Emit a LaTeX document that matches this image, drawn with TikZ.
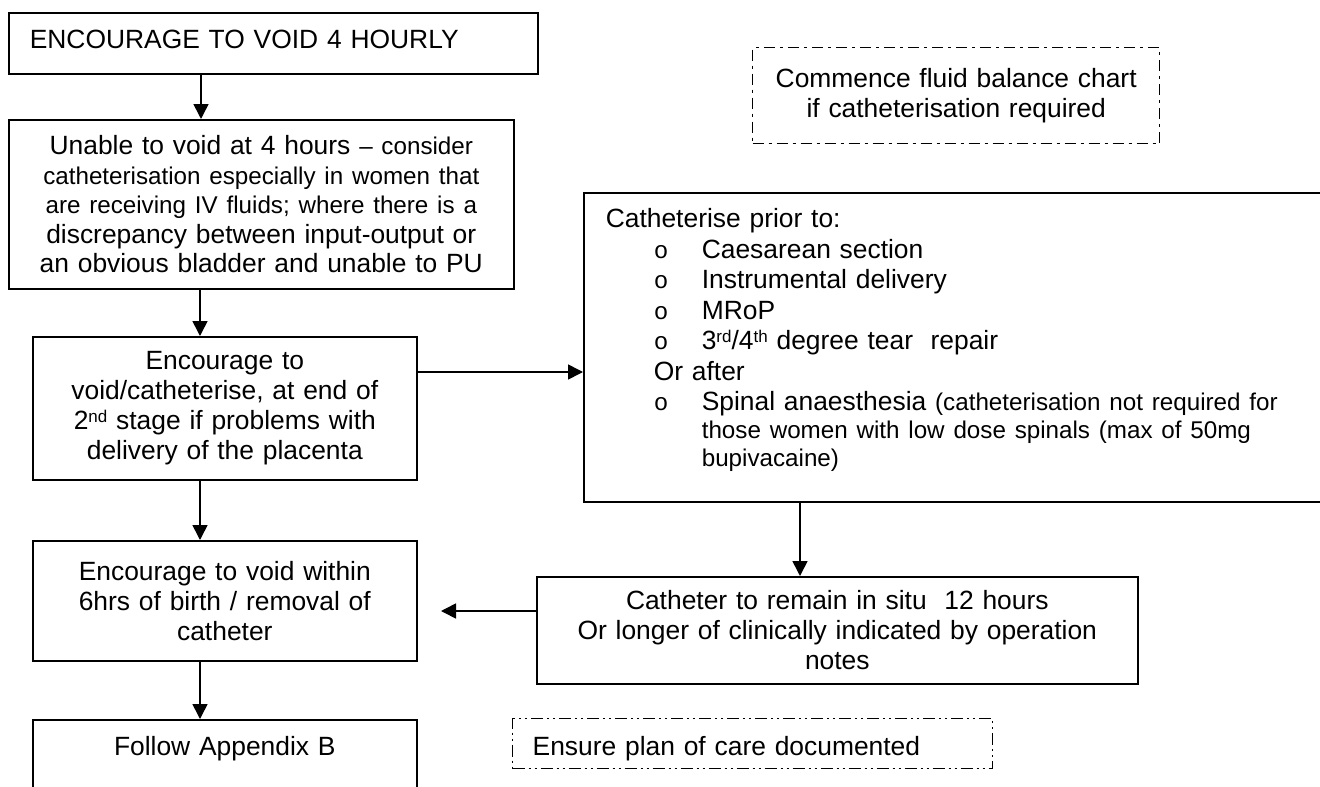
\documentclass[tikz,border=0pt]{standalone}
\usepackage{fontspec}
\setmainfont{Liberation Sans}
\newfontfamily\monof{Liberation Mono}
\usetikzlibrary{arrows.meta}
\newcommand\fsA{\fontsize{26.4pt}{30.5pt}\selectfont}
\newcommand\fsB{\fontsize{24.2pt}{28pt}\selectfont}
\newcommand\bul{\makebox[96pt][l]{\hspace*{48pt}{\fsB\monof o}}}
\newcommand\sups[1]{\raisebox{7pt}{\fontsize{17pt}{17pt}\selectfont #1}}
\tikzset{
  box/.style={draw, line width=1.6pt, inner sep=0pt, anchor=north west, font=\fsA},
  dbox/.style={draw, line width=1.4pt, inner sep=0pt, anchor=north west, font=\fsA},
  arr/.style={line width=1.6pt, -{Triangle[length=15pt,width=15pt]}},
}
\begin{document}
\begin{tikzpicture}[x=1pt,y=-1pt]
\useasboundingbox (0,0) rectangle (1320,787);
\clip (0,0) rectangle (1320,787);
\fill[white] (0,0) rectangle (1320,787);

\node[box, minimum width=529pt, minimum height=61pt, text width=487pt, align=left, inner xsep=21pt] (b1) at (8,12)
  {ENCOURAGE TO VOID 4 HOURLY\rule[-9pt]{0pt}{9pt}};

\node[box, minimum width=505pt, minimum height=169pt, text width=490pt, align=center,
  font=\fontsize{26.4pt}{29.5pt}\selectfont] (b2) at (8,119)
  {Unable to void at 4 hours {\fsB – consider}\\
   {\fsB catheterisation especially in women that}\\
   {\fsB are receiving IV fluids; where there is a}\\
   discrepancy between input-output or\\
   an obvious bladder and unable to PU};

\node[box, minimum width=384pt, minimum height=143pt, text width=370pt, align=center,
  font=\fontsize{26.4pt}{30pt}\selectfont] (b3) at (32,336)
  {Encourage to\\ void/catheterise, at end of\\ 2\sups{nd} stage if problems with\\ delivery of the placenta};

\node[box, minimum width=384pt, minimum height=120pt, text width=370pt, align=center,
  font=\fontsize{26.4pt}{30pt}\selectfont] (b4) at (32,540)
  {Encourage to void within\\ 6hrs of birth / removal of\\ catheter};

\node[box, minimum width=384pt, minimum height=100pt, text width=370pt, align=center] (b5) at (32,719)
  {Follow Appendix B\rule[-47pt]{0pt}{47pt}};

\node[box, minimum width=739pt, minimum height=309pt, text width=695pt, align=left, inner xsep=22pt] (cp) at (583,192)
  {Catheterise prior to:\\
   \bul Caesarean section\\
   \bul Instrumental delivery\\
   \bul MRoP\\
   \bul 3\sups{rd}/4\sups{th} degree tear\ \ repair\\
   \hspace*{48pt}Or after\\
   \bul Spinal anaesthesia {\fsB(catheterisation not required for}\\[-2.5pt]
   \hspace*{96pt}{\fsB those women with low dose spinals (max of 50mg}\\[-2.5pt]
   \hspace*{96pt}{\fsB bupivacaine)}\rule[-19pt]{0pt}{19pt}};

\node[box, minimum width=601pt, minimum height=107pt, text width=585pt, align=center,
  font=\fontsize{26.4pt}{30pt}\selectfont] (ct) at (536,576)
  {Catheter to remain in situ\ \ 12 hours\\ Or longer of clinically indicated by operation\\ notes};

\node[dbox, dash pattern=on 11pt off 5pt on 3pt off 5pt, minimum width=407pt, minimum height=96pt,
  text width=390pt, align=center, font=\fontsize{26.4pt}{30pt}\selectfont] (d1) at (752,47)
  {Commence fluid balance chart\\ if catheterisation required};

\node[dbox, dash pattern=on 12pt off 4pt on 2pt off 4pt on 2pt off 4pt, minimum width=480pt, minimum height=50pt,
  text width=440pt, align=left, inner xsep=20pt] (d2) at (512,718)
  {Ensure plan of care documented\rule{0pt}{29.5pt}};

\coordinate (ax) at (200,0);
\coordinate (ax1) at (201,0);
\coordinate (ay) at (0,372);
\coordinate (bx) at (800,0);
\coordinate (cy) at (0,611);
\coordinate (tip) at (441,611);

\draw[arr] (b1.south -| ax1) -- (b2.north -| ax1);
\draw[arr] (b2.south -| ax) -- (b3.north -| ax);
\draw[arr] (b3.south -| ax) -- (b4.north -| ax);
\draw[arr] (b4.south -| ax) -- (b5.north -| ax);
\draw[arr] (b3.east |- ay) -- (cp.west |- ay);
\draw[arr] (cp.south -| bx) -- (ct.north -| bx);
\draw[arr] (ct.west |- cy) -- (tip);
\end{tikzpicture}
\end{document}
